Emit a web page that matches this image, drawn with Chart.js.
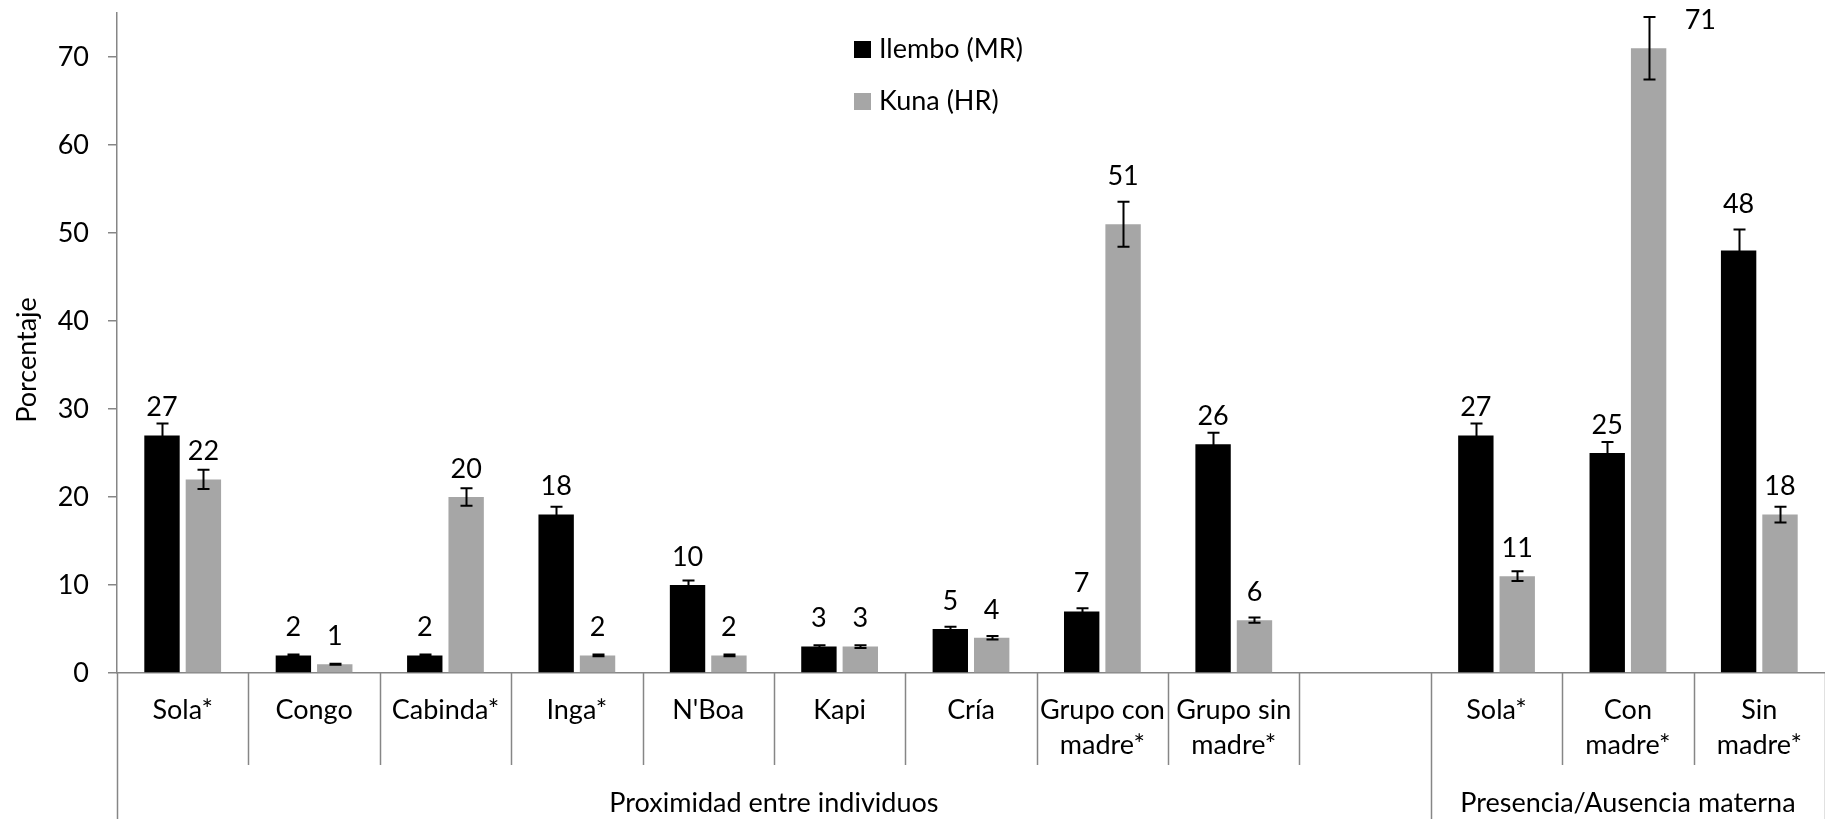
<!DOCTYPE html>
<html>
<head>
<meta charset="utf-8">
<script src="https://cdn.jsdelivr.net/npm/chart.js@4.4.1/dist/chart.umd.min.js"></script>
<style>
  html, body { margin: 0; padding: 0; background: #ffffff; }
  #wrap { width: 1825px; height: 819px; }
</style>
</head>
<body>
<div id="wrap"><canvas id="chart" width="1825" height="819"></canvas></div>
<script>
// Categories (multi-line labels) and their two groups
const categories = [
  ['Sola*'], ['Congo'], ['Cabinda*'], ['Inga*'], ["N'Boa"], ['Kapi'], ['Cría'],
  ['Grupo con', 'madre*'], ['Grupo sin', 'madre*'], [''],
  ['Sola*'], ['Con', 'madre*'], ['Sin', 'madre*']
];
const groupNames = ['Proximidad entre individuos', 'Presencia/Ausencia materna'];
const groupSizes = [10, 3];

// Series values (%) and their error half-widths
const ilembo    = [27, 2, 2, 18, 10, 3, 5, 7, 26, null, 27, 25, 48];
const kuna      = [22, 1, 20, 2, 2, 3, 4, 51, 6, null, 11, 71, 18];
const ilemboErr = [1.35, 0.1, 0.1, 0.9, 0.5, 0.15, 0.25, 0.35, 1.3, null, 1.35, 1.25, 2.4];
const kunaErr   = [1.1, 0.05, 1.0, 0.1, 0.1, 0.15, 0.2, 2.55, 0.3, null, 0.55, 3.55, 0.9];

const seriesNames = ['Ilembo (MR)', 'Kuna (HR)'];
const yTicks = [0, 10, 20, 30, 40, 50, 60, 70];

const FONT = 'Lato';
const FS = 27;
const AXIS_GREY = '#868686';
const TEXT = '#000000';

// Error bars with caps
const errorBars = {
  id: 'errorBars',
  afterDatasetsDraw(chart) {
    const ctx = chart.ctx;
    const y = chart.scales.y;
    const errs = [ilemboErr, kunaErr];
    ctx.save();
    ctx.strokeStyle = '#000';
    ctx.lineWidth = 2;
    chart.data.datasets.forEach((ds, di) => {
      const meta = chart.getDatasetMeta(di);
      meta.data.forEach((bar, i) => {
        const v = ds.data[i], e = errs[di][i];
        if (v == null || e == null) return;
        const top = y.getPixelForValue(v + e);
        const bot = y.getPixelForValue(v - e);
        const x = Math.round(bar.x) + 0.5;
        ctx.beginPath();
        ctx.moveTo(x, top); ctx.lineTo(x, bot);
        ctx.moveTo(x - 6, top); ctx.lineTo(x + 6, top);
        ctx.moveTo(x - 6, bot); ctx.lineTo(x + 6, bot);
        ctx.stroke();
      });
    });
    ctx.restore();
  }
};

// Value labels above each bar (kept clear of tall error bars)
const valueLabels = {
  id: 'valueLabels',
  afterDatasetsDraw(chart) {
    const ctx = chart.ctx;
    const y = chart.scales.y;
    const errs = [ilemboErr, kunaErr];
    const area = chart.chartArea;
    ctx.save();
    ctx.font = FS + 'px ' + FONT;
    ctx.fillStyle = TEXT;
    ctx.textAlign = 'center';
    ctx.textBaseline = 'middle';
    chart.data.datasets.forEach((ds, di) => {
      const meta = chart.getDatasetMeta(di);
      meta.data.forEach((bar, i) => {
        const v = ds.data[i];
        if (v == null) return;
        const e = errs[di][i] || 0;
        const barTop = y.getPixelForValue(v);
        const errTop = y.getPixelForValue(v + e);
        let ly = barTop - 28;
        let lx = bar.x;
        if (barTop - errTop > 15) ly = errTop - 25;
        if (ly - 12 < area.top) {
          // no room above: sit beside the error bar
          ly = barTop - 28;
          lx = bar.x + bar.width / 2 + 34;
        }
        ctx.fillText(String(v), lx, ly);
      });
    });
    ctx.restore();
  }
};

// Multi-level category axis, legend and y title
const decorations = {
  id: 'decorations',
  afterDraw(chart) {
    const ctx = chart.ctx;
    const x = chart.scales.x;
    const area = chart.chartArea;
    const H = chart.height;
    const n = categories.length;
    const step = (x.right - x.left) / n;
    const edge = i => x.getPixelForValue(i) - step / 2;

    ctx.save();
    ctx.strokeStyle = AXIS_GREY;
    ctx.lineWidth = 1.5;

    // group boundaries run to the bottom; other dividers stop under the labels
    const bounds = [0];
    groupSizes.forEach(s => bounds.push(bounds[bounds.length - 1] + s));
    for (let i = 0; i <= n; i++) {
      const px = Math.round(edge(i)) + 0.5;
      const full = bounds.includes(i);
      ctx.beginPath();
      ctx.moveTo(px, area.bottom);
      ctx.lineTo(px, full ? H : area.bottom + 92);
      ctx.stroke();
    }

    // category labels
    ctx.fillStyle = TEXT;
    ctx.font = FS + 'px ' + FONT;
    ctx.textAlign = 'center';
    ctx.textBaseline = 'middle';
    categories.forEach((lines, i) => {
      const cx = x.getPixelForValue(i);
      lines.forEach((t, k) => ctx.fillText(t, cx, area.bottom + 37 + k * 35));
    });

    // group labels
    groupNames.forEach((g, gi) => {
      const cx = (edge(bounds[gi]) + edge(bounds[gi + 1])) / 2;
      ctx.fillText(g, cx, area.bottom + 130);
    });

    // y axis title
    ctx.save();
    ctx.translate(27, 360);
    ctx.rotate(-Math.PI / 2);
    ctx.fillText('Porcentaje', 0, 0);
    ctx.restore();

    // legend
    ctx.textAlign = 'left';
    chart.data.datasets.forEach((ds, di) => {
      const ly = 49 + di * 52;
      ctx.fillStyle = ds.backgroundColor;
      ctx.fillRect(854, ly - 8, 17, 17);
      ctx.fillStyle = TEXT;
      ctx.fillText(ds.label, 879, ly);
    });
    ctx.restore();
  }
};

new Chart(document.getElementById('chart'), {
  type: 'bar',
  data: {
    labels: categories,
    datasets: [
      { label: seriesNames[0], data: ilembo, backgroundColor: '#000000',
        categoryPercentage: 0.63, barPercentage: 0.855 },
      { label: seriesNames[1], data: kuna, backgroundColor: '#A6A6A6',
        categoryPercentage: 0.63, barPercentage: 0.855 }
    ]
  },
  options: {
    responsive: false,
    animation: false,
    layout: { padding: { top: 13, right: 0, left: 0, bottom: 0 } },
    plugins: {
      legend: { display: false },
      tooltip: { enabled: false }
    },
    scales: {
      x: {
        ticks: { display: false },
        grid: { display: false },
        border: { display: true, color: AXIS_GREY, width: 1.5 },
        afterFit(scale) { scale.height = 146; }
      },
      y: {
        min: 0,
        max: 75,
        afterBuildTicks(scale) {
          scale.ticks = yTicks.map(v => ({ value: v }));
        },
        afterFit(scale) {
          scale.width = 117;
          scale.paddingTop = 0;
          scale.paddingBottom = 0;
        },
        ticks: {
          padding: 19,
          color: TEXT,
          font: { family: FONT, size: FS }
        },
        grid: {
          drawOnChartArea: false,
          drawTicks: true,
          tickLength: 9,
          color: AXIS_GREY,
          lineWidth: 1.5
        },
        border: { display: true, color: AXIS_GREY, width: 1.5 }
      }
    }
  },
  plugins: [errorBars, valueLabels, decorations]
});
</script>
</body>
</html>
